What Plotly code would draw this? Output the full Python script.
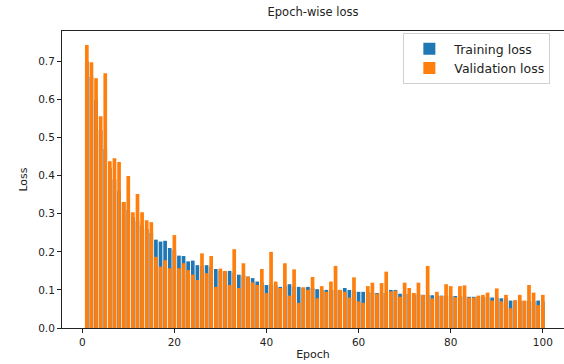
import plotly.graph_objects as go

epochs = list(range(1, 101))

val_loss = [
    0.743, 0.698, 0.656, 0.556, 0.669, 0.438, 0.446, 0.436, 0.331, 0.399,
    0.304, 0.352, 0.304, 0.283, 0.278, 0.187, 0.161, 0.178, 0.157, 0.244,
    0.157, 0.170, 0.152, 0.140, 0.126, 0.196, 0.144, 0.189, 0.108, 0.156,
    0.150, 0.113, 0.207, 0.105, 0.170, 0.135, 0.120, 0.113, 0.155, 0.092,
    0.200, 0.122, 0.105, 0.170, 0.085, 0.154, 0.066, 0.107, 0.100, 0.134,
    0.078, 0.110, 0.095, 0.122, 0.163, 0.100, 0.095, 0.080, 0.133, 0.070,
    0.066, 0.110, 0.119, 0.090, 0.118, 0.148, 0.096, 0.098, 0.082, 0.119,
    0.105, 0.092, 0.119, 0.087, 0.163, 0.078, 0.095, 0.084, 0.115, 0.110,
    0.081, 0.110, 0.112, 0.080, 0.080, 0.085, 0.087, 0.093, 0.072, 0.104,
    0.070, 0.087, 0.052, 0.073, 0.087, 0.072, 0.113, 0.093, 0.060, 0.087,
]

train_loss = [
    0.700, 0.660, 0.600, 0.520, 0.470, 0.420, 0.390, 0.360, 0.330, 0.310,
    0.290, 0.280, 0.270, 0.260, 0.250, 0.232, 0.227, 0.229, 0.210, 0.205,
    0.190, 0.189, 0.175, 0.177, 0.165, 0.163, 0.165, 0.160, 0.155, 0.150,
    0.148, 0.150, 0.145, 0.140, 0.138, 0.135, 0.131, 0.122, 0.120, 0.113,
    0.115, 0.112, 0.108, 0.110, 0.115, 0.108, 0.108, 0.105, 0.108, 0.105,
    0.102, 0.100, 0.100, 0.100, 0.100, 0.100, 0.105, 0.100, 0.098, 0.095,
    0.095, 0.094, 0.093, 0.092, 0.092, 0.092, 0.100, 0.100, 0.090, 0.090,
    0.089, 0.088, 0.088, 0.087, 0.087, 0.086, 0.086, 0.085, 0.085, 0.084,
    0.084, 0.083, 0.083, 0.082, 0.082, 0.082, 0.081, 0.081, 0.080, 0.080,
    0.078, 0.078, 0.072, 0.072, 0.072, 0.071, 0.071, 0.070, 0.072, 0.070,
]

x_ticks = [0, 20, 40, 60, 80, 100]
y_ticks = [0.0, 0.1, 0.2, 0.3, 0.4, 0.5, 0.6, 0.7]

FONT = "DejaVu Sans"

fig = go.Figure()
fig.add_trace(go.Bar(x=epochs, y=train_loss, name="Training loss",
                     marker=dict(color="#1f77b4", line=dict(width=0)), width=0.8))
fig.add_trace(go.Bar(x=epochs, y=val_loss, name="Validation loss",
                     marker=dict(color="#ff7f0e", line=dict(width=0)), width=0.8))

fig.update_layout(
    width=564, height=364,
    barmode="overlay",
    paper_bgcolor="white", plot_bgcolor="white",
    margin=dict(l=62, r=0, t=31, b=36, autoexpand=False),
    font=dict(family=FONT, size=10.5, color="#222"),
    title=dict(text="Epoch-wise loss", x=0.5, xref="paper", xanchor="center",
               y=1, yref="container", yanchor="top", pad=dict(t=8),
               font=dict(family=FONT, size=11.5, color="#222")),
    showlegend=True,
    legend=dict(x=0.68, y=0.993, xanchor="left", yanchor="top",
                bgcolor="white", bordercolor="#d0d0d0", borderwidth=1,
                font=dict(family=FONT, size=12.5, color="#222"),
                tracegroupgap=0, itemwidth=40),
    xaxis=dict(range=[-4.39, 104.6], tickvals=x_ticks, ticktext=[str(v) for v in x_ticks],
               ticks="outside", ticklen=4, tickcolor="#222", showline=True,
               linecolor="#222", linewidth=1, mirror=True, showgrid=False, zeroline=False,
               title=dict(text="Epoch", font=dict(family=FONT, size=11), standoff=3)),
    yaxis=dict(range=[0, 0.78], tickvals=y_ticks, tickformat=".1f",
               ticks="outside", ticklen=4, tickcolor="#222", showline=True,
               linecolor="#222", linewidth=1, showgrid=False, zeroline=False,
               title=dict(text="Loss", font=dict(family=FONT, size=11), standoff=8)),
)

fig.write_html("out.html", config={"displayModeBar": False},
               post_script="document.body.style.margin='0';document.body.style.overflow='hidden';")
